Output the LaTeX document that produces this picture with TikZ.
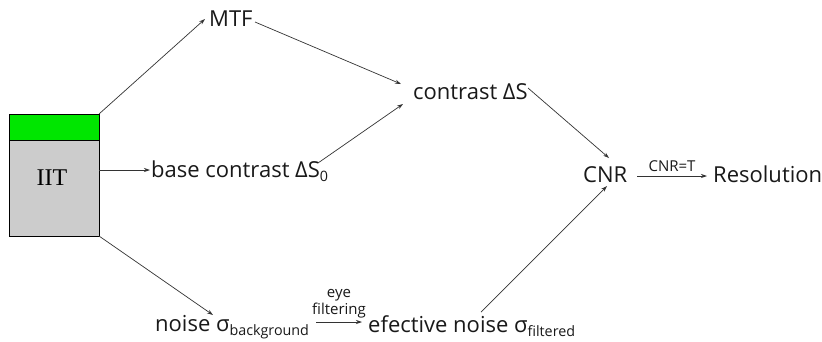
\documentclass[tikz,border=0pt]{standalone}
\usepackage{fontspec}
\setmainfont{Open Sans}
\usetikzlibrary{arrows.meta}
\newcommand{\lowsub}[1]{\raisebox{-4.5pt}{\fontsize{14.3}{15}\selectfont #1}}
\begin{document}
\begin{tikzpicture}[x=1pt,y=-1pt,
  lbl/.style={inner sep=0pt,anchor=base west,font=\fontsize{22}{24}\selectfont,text=black!90},
  small/.style={inner sep=0pt,font=\fontsize{15}{17}\selectfont,align=center,text=black!90},
  arr/.style={draw=black!80,line width=0.7pt,-{Stealth[length=6pt,width=4pt]}}]
\useasboundingbox (0,0) rectangle (822,341);
\fill[white] (0,0) rectangle (822,341);
% IIT box
\draw[fill=black!20,line width=0.8pt] (9,140) rectangle (99,236);
\draw[fill={rgb,255:red,0;green,230;blue,0},line width=0.8pt] (9,114) rectangle (99,140);
\node[inner sep=0pt,font=\fontspec{Liberation Serif}\fontsize{24}{26}\selectfont] (iit) at (52,178) {IIT};
\coordinate (bt) at (99,114);
\coordinate (bm) at (99,170);
\coordinate (bb) at (99,236);
% nodes
\node[lbl] (mtf) at (209,26) {MTF};
\node[lbl] (base) at (151,177) {base contrast ΔS\lowsub{0}};
\node[lbl] (con) at (413,99) {contrast ΔS};
\node[lbl] (cnr) at (583,182) {CNR};
\node[lbl] (res) at (713,182) {Resolution};
\node[lbl] (noise) at (155,331) {noise σ\lowsub{background}};
\node[lbl] (eff) at (368,332) {efective noise σ\lowsub{filtered}};
% arrows
\draw[arr] (bt) -- (205,19);
\draw[arr] (bm) -- (150,170);
\draw[arr] (bb) -- (213,315);
\draw[arr] (255,22) -- (401,84);
\draw[arr] (318,163) -- (403,104);
\draw[arr] (528,88) -- (609,158);
\draw[arr] (481,312) -- (607,186);
\draw[arr] (637,176) -- node[small,above=4pt] {CNR=T} (707,176);
\draw[arr] (316,322) -- node[small,above=4pt] {eye\\filtering} (362,322);
\end{tikzpicture}
\end{document}
